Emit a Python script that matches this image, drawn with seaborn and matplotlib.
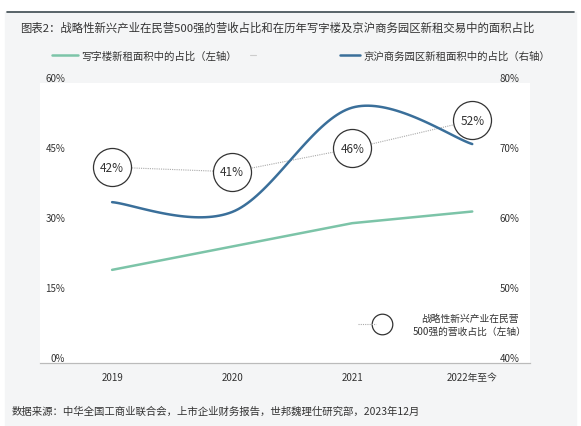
import numpy as np
import matplotlib
matplotlib.use("Agg")
import matplotlib.pyplot as plt
import seaborn as sns
import pandas as pd

sns.set_style("white")
plt.rcParams['font.family'] = ['Noto Sans CJK SC', 'DejaVu Sans']

years = ["2019", "2020", "2021", "2022年至今"]
office_share = [20.0, 25.0, 30.0, 32.5]          # left axis
park_share = [63.0, 61.6, 76.5, 71.3]            # right axis
revenue_share = [42, 41, 46, 52]                 # bubbles, left axis
bubble_labels = ["42%", "41%", "46%", "52%"]

def smooth(x, y, n=40):
    # Excel-style smoothed line (Catmull-Rom Bezier segments)
    x = np.asarray(x, float); y = np.asarray(y, float)
    P = np.column_stack([x, y]); k = len(P)
    out = []
    for i in range(k - 1):
        p0 = P[max(i - 1, 0)]; p1 = P[i]; p2 = P[i + 1]; p3 = P[min(i + 2, k - 1)]
        c1 = p1 + (p2 - p0) / 6; c2 = p2 - (p3 - p1) / 6
        t = np.linspace(0, 1, n)[:, None]
        seg = (1 - t) ** 3 * p1 + 3 * (1 - t) ** 2 * t * c1 + 3 * (1 - t) * t ** 2 * c2 + t ** 3 * p2
        out.append(seg if i == 0 else seg[1:])
    out = np.vstack(out)
    return out[:, 0], out[:, 1]

xpos = np.arange(len(years))
fig = plt.figure(figsize=(5.81, 4.27), dpi=100)
bg = "#f4f5f6"
fig.add_artist(plt.Rectangle((0.05/5.81, 0), 1 - 0.1/5.81, 1 - 13/427, transform=fig.transFigure, color=bg, zorder=-10))
fig.add_artist(plt.Line2D([0.012, 0.988], [1 - 13/427] * 2, color="#3d4a50", lw=1.2))
ax = fig.add_axes([0.069, 0.147, 0.843, 0.656])
ax.set_facecolor("white")
ax2 = ax.twinx()

df = pd.DataFrame({"x": xpos, "office": office_share})
sns.lineplot(data=df, x="x", y="office", ax=ax, color="#7cc4a8", lw=1.8)
xs, ys = smooth(xpos, park_share)
sns.lineplot(x=xs, y=ys, ax=ax2, color="#3a6f9a", lw=1.8, sort=False)
ax.plot(xpos, revenue_share, color="#aaaaaa", lw=0.8, ls=(0, (1, 1)), zorder=3)
ax.scatter(xpos, revenue_share, s=750, facecolor="white", edgecolor="#333333", lw=0.9, zorder=4)
for x, y, t in zip(xpos, revenue_share, bubble_labels):
    ax.text(x, y, t, ha="center", va="center", fontsize=8.5, color="#333333", zorder=5)

ax.set_xlim(-0.6, 3.48)
ax.set_ylim(0, 60); ax2.set_ylim(40, 80)
ax.set_yticks([0, 15, 30, 45, 60]); ax.set_yticklabels(["0%", "15%", "30%", "45%", "60%"])
ax2.set_yticks([40, 50, 60, 70, 80]); ax2.set_yticklabels(["40%", "50%", "60%", "70%", "80%"])
ax.set_xticks(xpos); ax.set_xticklabels(years)
for a in (ax, ax2):
    a.set_xlabel(""); a.set_ylabel("")
    a.tick_params(labelsize=7, colors="#333333", length=0, pad=6)
    for s in ["top", "left", "right"]:
        a.spines[s].set_visible(False)
    a.spines["bottom"].set_color("#bbbbbb")
ax.tick_params(axis="y", pad=-18)
ax2.tick_params(axis="y", pad=-22)
for lab in ax.get_yticklabels():
    lab.set_va("bottom")
for lab in ax2.get_yticklabels():
    lab.set_va("bottom")

fig.text(0.035, 0.935, "图表2：战略性新兴产业在民营500强的营收占比和在历年写字楼及京沪商务园区新租交易中的面积占比",
         fontsize=8.2, color="#333333", va="center")
fig.add_artist(plt.Line2D([0.09, 0.135], [0.868] * 2, color="#7cc4a8", lw=1.8))
fig.text(0.14, 0.868, "写字楼新租面积中的占比（左轴）", fontsize=7.5, color="#333333", va="center")
fig.add_artist(plt.Line2D([0.43, 0.44], [0.868] * 2, color="#cccccc", lw=0.8))
fig.add_artist(plt.Line2D([0.585, 0.62], [0.868] * 2, color="#3a6f9a", lw=1.8))
fig.text(0.625, 0.868, "京沪商务园区新租面积中的占比（右轴）", fontsize=7.5, color="#333333", va="center")
# bubble legend
ax.plot([2.05, 2.2], [8.3, 8.3], color="#aaaaaa", lw=0.8, ls=(0, (1, 1)))
ax.scatter([2.25], [8.3], s=220, facecolor="white", edgecolor="#333333", lw=0.9)
ax.text(2.98, 8.3, "战略性新兴产业在民营\n500强的营收占比（左轴）", fontsize=7, color="#333333",
        ha="center", va="center", linespacing=1.4)
fig.text(0.02, 0.035, "数据来源：中华全国工商业联合会，上市企业财务报告，世邦魏理仕研究部，2023年12月",
         fontsize=7.5, color="#333333", va="center")
fig.savefig("out.png", dpi=100)
